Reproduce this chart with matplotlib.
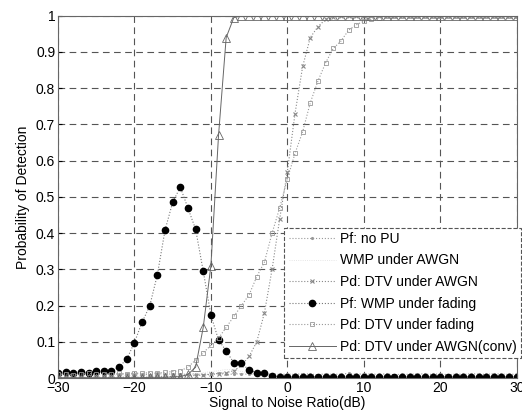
import matplotlib
matplotlib.use("Agg")
import matplotlib.pyplot as plt
import numpy as np

plt.rcParams["font.family"] = ["Liberation Sans", "DejaVu Sans"]

# SNR axis, 1 dB steps from -30 to 30
snr = np.arange(-30, 31)

pf_no_pu = [0.010, 0.012, 0.009, 0.011, 0.013, 0.010, 0.012, 0.009, 0.011, 0.010,
            0.012, 0.011, 0.009, 0.013, 0.010, 0.012, 0.011, 0.010, 0.012, 0.009,
            0.011, 0.013, 0.010, 0.011, 0.012, 0.010, 0.011, 0.009, 0.012, 0.010,
            0.011, 0.010, 0.012, 0.011, 0.009, 0.012, 0.010, 0.011, 0.013, 0.010,
            0.012, 0.011, 0.010, 0.012, 0.009, 0.011, 0.010, 0.012, 0.011, 0.010,
            0.012, 0.009, 0.011, 0.010, 0.012, 0.011, 0.010, 0.012, 0.011, 0.010,
            0.011]
pf_wmp_awgn = [0.006, 0.008, 0.005, 0.007, 0.006, 0.009, 0.005, 0.007, 0.008, 0.006,
               0.007, 0.005, 0.008, 0.006, 0.007, 0.009, 0.006, 0.008, 0.012, 0.015,
               0.018, 0.020, 0.024, 0.022, 0.018, 0.014, 0.010, 0.008, 0.006, 0.005,
               0.004, 0.004, 0.005, 0.004, 0.004, 0.005, 0.004, 0.004, 0.005, 0.004,
               0.004, 0.005, 0.004, 0.004, 0.005, 0.004, 0.004, 0.005, 0.004, 0.004,
               0.005, 0.004, 0.004, 0.005, 0.004, 0.004, 0.005, 0.004, 0.004, 0.005,
               0.004]
pd_dtv_awgn = [0.002, 0.002, 0.003, 0.002, 0.002, 0.003, 0.002, 0.002, 0.003, 0.002,
               0.003, 0.002, 0.003, 0.003, 0.004, 0.004, 0.005, 0.006, 0.007, 0.008,
               0.010, 0.012, 0.015, 0.020, 0.035, 0.060, 0.100, 0.180, 0.300, 0.440,
               0.570, 0.730, 0.860, 0.940, 0.970, 0.990, 0.997, 1.0, 1.0, 1.0,
               1.0, 1.0, 1.0, 1.0, 1.0, 1.0, 1.0, 1.0, 1.0, 1.0,
               1.0, 1.0, 1.0, 1.0, 1.0, 1.0, 1.0, 1.0, 1.0, 1.0,
               1.0]
pf_wmp_fading = [0.015, 0.017, 0.015, 0.017, 0.013, 0.019, 0.019, 0.020, 0.031, 0.052,
                 0.098, 0.154, 0.199, 0.285, 0.408, 0.485, 0.527, 0.469, 0.411, 0.295,
                 0.174, 0.105, 0.075, 0.042, 0.041, 0.022, 0.015, 0.014, 0.006, 0.004,
                 0.003, 0.003, 0.003, 0.003, 0.003, 0.003, 0.003, 0.003, 0.003, 0.003,
                 0.003, 0.003, 0.003, 0.003, 0.003, 0.003, 0.003, 0.003, 0.003, 0.003,
                 0.003, 0.003, 0.003, 0.003, 0.003, 0.003, 0.003, 0.003, 0.003, 0.003,
                 0.003]
pd_dtv_fading = [0.010, 0.012, 0.009, 0.011, 0.013, 0.010, 0.012, 0.011, 0.013, 0.012,
                 0.014, 0.013, 0.015, 0.014, 0.016, 0.018, 0.020, 0.030, 0.050, 0.070,
                 0.090, 0.110, 0.140, 0.170, 0.200, 0.230, 0.280, 0.320, 0.400, 0.470,
                 0.550, 0.620, 0.680, 0.760, 0.820, 0.870, 0.910, 0.930, 0.960, 0.975,
                 0.985, 0.990, 0.995, 1.0, 1.0, 1.0, 1.0, 1.0, 1.0, 1.0,
                 1.0, 1.0, 1.0, 1.0, 1.0, 1.0, 1.0, 1.0, 1.0, 1.0,
                 1.0]
pd_dtv_awgn_conv = [0.001, 0.001, 0.001, 0.001, 0.001, 0.001, 0.001, 0.001, 0.001, 0.001,
                    0.001, 0.001, 0.002, 0.002, 0.002, 0.003, 0.004, 0.010, 0.030, 0.140,
                    0.310, 0.670, 0.940, 0.995, 1.0, 1.0, 1.0, 1.0, 1.0, 1.0,
                    1.0, 1.0, 1.0, 1.0, 1.0, 1.0, 1.0, 1.0, 1.0, 1.0,
                    1.0, 1.0, 1.0, 1.0, 1.0, 1.0, 1.0, 1.0, 1.0, 1.0,
                    1.0, 1.0, 1.0, 1.0, 1.0, 1.0, 1.0, 1.0, 1.0, 1.0,
                    1.0]

labels = ["Pf: no PU", "WMP under AWGN", "Pd: DTV under AWGN",
          "Pf: WMP under fading", "Pd: DTV under fading", "Pd: DTV under AWGN(conv)"]

fig = plt.figure(figsize=(5.22, 4.15), dpi=100)
ax = fig.add_axes([0.111, 0.089, 0.879, 0.873])

ax.plot(snr, pf_no_pu, linestyle=":", color="#999999", lw=0.8,
        marker=".", markersize=2.5, label=labels[0])
ax.plot(snr, pf_wmp_awgn, linestyle=":", color="#dddddd", lw=0.6,
        label=labels[1])
ax.plot(snr, pd_dtv_awgn, linestyle=":", color="#888888", lw=0.8,
        marker="x", markersize=3.5, markeredgewidth=0.8, label=labels[2])
ax.plot(snr, pf_wmp_fading, linestyle=":", color="#777777", lw=0.8,
        marker="o", markersize=4.5, markerfacecolor="black",
        markeredgecolor="black", label=labels[3])
ax.plot(snr, pd_dtv_fading, linestyle=":", color="#999999", lw=0.8,
        marker="s", markersize=2.5, markerfacecolor="none",
        markeredgewidth=0.6, label=labels[4])
ax.plot(snr, pd_dtv_awgn_conv, linestyle="-", color="#666666", lw=0.7,
        marker="^", markersize=5.5, markerfacecolor="none",
        markeredgewidth=0.6, label=labels[5])

ax.set_xlim(-30, 30)
ax.set_ylim(0, 1)
ax.set_xticks([-30, -20, -10, 0, 10, 20, 30])
ax.set_yticks(np.linspace(0, 1, 11))
ax.set_yticklabels(["0", "0.1", "0.2", "0.3", "0.4", "0.5",
                    "0.6", "0.7", "0.8", "0.9", "1"])
ax.tick_params(labelsize=10, length=3, direction="in", pad=2)
ax.grid(True, linestyle=(0, (6, 4)), color="#555555", lw=0.8)
for sp in ax.spines.values():
    sp.set_color("#666666")
    sp.set_linewidth(0.8)

ax.set_xlabel("Signal to Noise Ratio(dB)", fontsize=10, labelpad=1)
ax.set_ylabel("Probability of Detection", fontsize=10, labelpad=4)

leg = ax.legend(loc="lower right", bbox_to_anchor=(1.009, 0.055), fontsize=10,
                handlelength=3.4, handletextpad=0.3, labelspacing=0.55,
                borderpad=0.3, borderaxespad=0, fancybox=False, framealpha=1)
leg.get_frame().set_edgecolor("#555555")
leg.get_frame().set_linestyle("--")
leg.get_frame().set_linewidth(0.8)

fig.savefig("out.png", dpi=100)
